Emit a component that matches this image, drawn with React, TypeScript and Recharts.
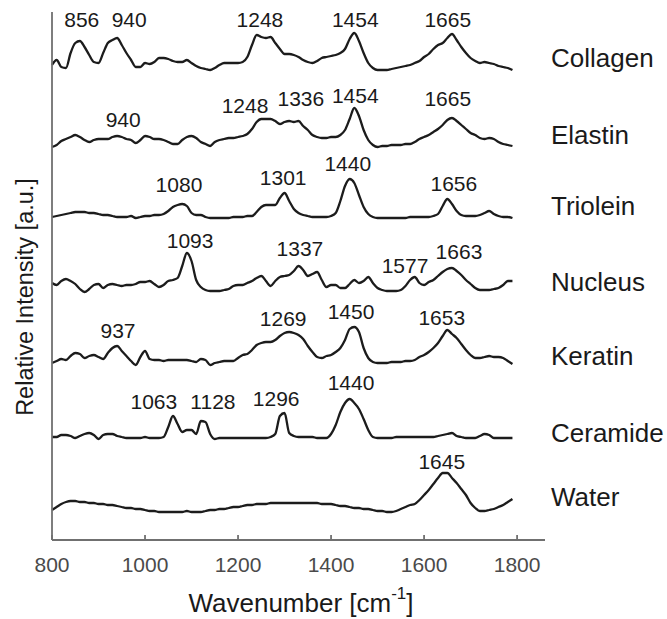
import React from "react";
import { LineChart, Line, XAxis, YAxis, ReferenceDot } from "recharts";

const FONT = "'Liberation Sans', Arial, sans-serif";

// Wavenumber grid (cm^-1)
const wavenumbers = [
  800, 810, 820, 830, 840, 850, 860, 870, 880, 890,
  900, 910, 920, 930, 940, 950, 960, 970, 980, 990,
  1000, 1010, 1020, 1030, 1040, 1050, 1060, 1070, 1080, 1090,
  1100, 1110, 1120, 1130, 1140, 1150, 1160, 1170, 1180, 1190,
  1200, 1210, 1220, 1230, 1240, 1250, 1260, 1270, 1280, 1290,
  1300, 1310, 1320, 1330, 1340, 1350, 1360, 1370, 1380, 1390,
  1400, 1410, 1420, 1430, 1440, 1450, 1460, 1470, 1480, 1490,
  1500, 1510, 1520, 1530, 1540, 1550, 1560, 1570, 1580, 1590,
  1600, 1610, 1620, 1630, 1640, 1650, 1660, 1670, 1680, 1690,
  1700, 1710, 1720, 1730, 1740, 1750, 1760, 1770, 1780, 1790,
];

// Relative intensities (a.u.), each spectrum above its own baseline
const collagen = [
  5, 10, 3, 2, 17, 27, 29, 23, 15, 8,
  7, 17, 27, 30, 32, 25, 17, 10, 3, 3,
  7, 6, 8, 12, 12, 11, 9, 8, 8, 10,
  7, 4, 2, 1, 0, 2, 5, 7, 7, 7,
  7, 8, 13, 25, 35, 33, 32, 33, 27, 21,
  16, 16, 15, 13, 10, 8, 7, 9, 12, 13,
  14, 15, 17, 21, 31, 37, 29, 17, 7, 2,
  0, 0, 0, 1, 2, 3, 4, 5, 7, 9,
  13, 16, 21, 25, 27, 32, 36, 30, 23, 17,
  12, 9, 7, 8, 7, 6, 4, 3, 2, 0,
];
const elastin = [
  0, 2, 6, 8, 10, 12, 10, 7, 5, 7,
  8, 8, 8, 10, 11, 10, 8, 7, 4, 7,
  11, 10, 8, 8, 7, 5, 3, 3, 7, 10,
  11, 9, 5, 3, 1, 5, 7, 8, 9, 9,
  10, 11, 13, 18, 25, 28, 28, 28, 26, 23,
  25, 26, 25, 26, 21, 17, 12, 10, 9, 9,
  10, 10, 12, 17, 28, 39, 31, 17, 7, 2,
  0, 1, 1, 2, 2, 2, 3, 3, 5, 8,
  10, 12, 15, 18, 22, 27, 29, 26, 22, 18,
  14, 12, 9, 8, 9, 8, 5, 3, 2, 1,
];
const triolein = [
  1, 2, 3, 4, 5, 6, 6, 6, 5, 5,
  4, 3, 3, 2, 1, 1, 1, 2, 0, 1,
  2, 2, 3, 3, 4, 7, 11, 13, 14, 12,
  5, 3, 3, 1, 0, 0, 0, 0, 0, 1,
  1, 1, 2, 2, 6, 11, 13, 13, 13, 20,
  25, 17, 9, 5, 3, 2, 1, 1, 1, 1,
  2, 5, 17, 32, 39, 35, 23, 11, 4, 1,
  0, 0, 0, 0, 0, 0, 0, 1, 1, 1,
  1, 1, 2, 4, 12, 19, 14, 7, 3, 2,
  2, 2, 3, 5, 7, 4, 2, 1, 1, 0,
];
const nucleus = [
  9, 7, 11, 13, 11, 8, 3, 0, 3, 7,
  8, 4, 7, 8, 7, 6, 7, 7, 8, 10,
  10, 11, 8, 5, 7, 11, 12, 14, 26, 39,
  31, 12, 5, 2, 1, 1, 1, 2, 3, 6,
  7, 7, 9, 11, 14, 16, 11, 6, 11, 15,
  16, 17, 21, 26, 22, 16, 18, 20, 12, 5,
  7, 7, 4, 4, 8, 12, 9, 11, 15, 9,
  4, 2, 1, 1, 1, 2, 6, 12, 15, 9,
  7, 10, 12, 16, 20, 23, 24, 21, 17, 12,
  8, 4, 2, 2, 2, 3, 4, 7, 11, 11,
];
const keratin = [
  0, 2, 4, 3, 7, 10, 9, 5, 7, 8,
  6, 4, 10, 15, 17, 12, 7, 2, -2, 6,
  12, 4, 3, 3, 2, 3, 3, 3, 3, 3,
  2, 1, 4, 3, -2, 0, 1, 2, 2, 2,
  5, 8, 9, 13, 18, 20, 21, 21, 23, 27,
  30, 31, 30, 28, 24, 17, 11, 6, 5, 7,
  8, 11, 15, 23, 34, 36, 31, 15, 5, 1,
  0, 0, 0, 1, 1, 1, 2, 2, 3, 6,
  8, 11, 15, 20, 27, 33, 29, 25, 19, 13,
  8, 5, 5, 6, 7, 6, 6, 5, 2, -1,
];
const ceramide = [
  1, 1, 3, 3, 2, 0, 2, 4, 5, 3,
  -1, 3, 4, 4, 2, 1, 0, 0, 0, 0,
  1, 0, 0, 0, 1, 11, 22, 14, 6, 8,
  8, 4, 17, 16, 4, -1, 0, 0, 0, 0,
  0, 0, 0, 0, 0, 0, 0, 1, 4, 22,
  25, 5, 2, 1, 1, 1, 1, 0, 0, 0,
  4, 13, 26, 35, 39, 35, 29, 19, 8, 1,
  0, 0, 0, 0, 1, 1, 1, 1, 1, 1,
  1, 1, 1, 2, 3, 4, 5, 2, 1, 0,
  0, 0, 2, 4, 3, 0, 0, 0, 0, 0,
];
const water = [
  2, 5, 8, 10, 11, 11, 10, 10, 9, 9,
  8, 8, 7, 7, 6, 5, 4, 4, 3, 3,
  2, 1, 1, 0, 0, 0, 0, 0, 0, 1,
  0, 0, 0, 1, 2, 2, 3, 3, 4, 5,
  5, 6, 7, 7, 8, 8, 8, 9, 9, 9,
  9, 9, 9, 9, 9, 9, 9, 9, 8, 8,
  8, 7, 6, 6, 5, 4, 4, 3, 3, 2,
  1, 1, 0, 0, 1, 3, 5, 7, 8, 12,
  17, 22, 28, 34, 39, 39, 34, 29, 23, 17,
  9, 4, 1, 1, 2, 3, 5, 7, 10, 13,
];

const seriesNames = ["Collagen", "Elastin", "Triolein", "Nucleus", "Keratin", "Ceramide", "Water"];
const seriesValues = [collagen, elastin, triolein, nucleus, keratin, ceramide, water];
// vertical stacking offsets of each spectrum
const seriesOffsets = [470, 393, 322, 248, 177, 102, 28];
// anchor heights for the spectrum names
const nameLabelY = [482, 405, 334, 258, 184, 107, 43];

const xTicks = [800, 1000, 1200, 1400, 1600, 1800];
const yTicks = [60, 142, 223, 305, 386, 468];
const X_DOMAIN = [800, 1860];
const Y_DOMAIN = [0, 528];

// peak annotations: text, anchor wavenumber, anchor height
const peakTexts = [
  "856", "940", "1248", "1454", "1665",
  "940", "1248", "1336", "1454", "1665",
  "1080", "1301", "1440", "1656",
  "1093", "1337", "1577", "1663",
  "937", "1269", "1450", "1653",
  "1063", "1128", "1296", "1440",
  "1645",
];
const peakX = [
  864, 966, 1247, 1452, 1651,
  953, 1215, 1335, 1452, 1651,
  1073, 1297, 1436, 1664,
  1097, 1333, 1559, 1675,
  942, 1297, 1443, 1638,
  1019, 1146, 1282, 1443,
  1638,
];
const peakY = [
  520, 520, 520, 520, 520,
  420, 434, 441, 444, 441,
  355, 362, 376, 356,
  299, 291, 274, 288,
  209, 221, 228, 222,
  138, 138, 141, 157,
  78,
];

const data = wavenumbers.map((w, i) => {
  const row: Record<string, number> = { w };
  seriesNames.forEach((name, k) => {
    row[name] = seriesValues[k][i] + seriesOffsets[k];
  });
  return row;
});

const LINE_COLOR = "#1c1c1c";
const AXIS_COLOR = "#707070";
const TEXT_COLOR = "#1a1a1a";

const XTitle = () => (
  <text
    x={301}
    y={603}
    textAnchor="middle"
    dominantBaseline="central"
    fontSize={26}
    fill={TEXT_COLOR}
    fontFamily={FONT}
  >
    Wavenumber [cm
    <tspan dy={-10} fontSize={17}>-1</tspan>
    <tspan dy={10}>]</tspan>
  </text>
);

const YTitle = () => (
  <text
    x={25}
    y={297}
    transform="rotate(-90, 25, 297)"
    textAnchor="middle"
    dominantBaseline="central"
    fontSize={23.5}
    fill={TEXT_COLOR}
    fontFamily={FONT}
  >
    Relative Intensity [a.u.]
  </text>
);

export default function App() {
  return (
    <div
      style={{
        position: "absolute",
        left: 0,
        top: 0,
        width: 667,
        height: 619,
        background: "#fff",
        fontFamily: FONT,
      }}
    >
      <LineChart
        width={667}
        height={619}
        data={data}
        margin={{ top: 12, left: 52, right: 122, bottom: 0 }}
      >
        <XAxis
          dataKey="w"
          type="number"
          domain={X_DOMAIN}
          ticks={xTicks}
          interval={0}
          height={79}
          tickSize={-5}
          tickMargin={22}
          stroke={AXIS_COLOR}
          strokeWidth={1.8}
          tick={{ fontSize: 21, fill: "#4a4a4a", fontFamily: FONT }}
          label={<XTitle />}
        />
        <YAxis
          type="number"
          domain={Y_DOMAIN}
          ticks={yTicks}
          width={40}
          mirror
          tickSize={4}
          tick={false}
          stroke={AXIS_COLOR}
          strokeWidth={1.8}
          allowDataOverflow
          label={<YTitle />}
        />
        {seriesNames.map((name) => (
          <Line
            key={name}
            dataKey={name}
            type="monotone"
            stroke={LINE_COLOR}
            strokeWidth={2.3}
            dot={false}
            activeDot={false}
            isAnimationActive={false}
          />
        ))}
        {peakTexts.map((t, i) => (
          <ReferenceDot
            key={"p" + i}
            x={peakX[i]}
            y={peakY[i]}
            r={0}
            fill="none"
            stroke="none"
            label={{ value: t, position: "center", fontSize: 21, fill: TEXT_COLOR, fontFamily: FONT }}
          />
        ))}
        {seriesNames.map((name, k) => (
          <ReferenceDot
            key={"n" + name}
            x={X_DOMAIN[1]}
            y={nameLabelY[k]}
            r={0}
            fill="none"
            stroke="none"
            label={{ value: name, position: "right", offset: 6, fontSize: 26, fill: TEXT_COLOR, fontFamily: FONT }}
          />
        ))}
      </LineChart>
    </div>
  );
}
